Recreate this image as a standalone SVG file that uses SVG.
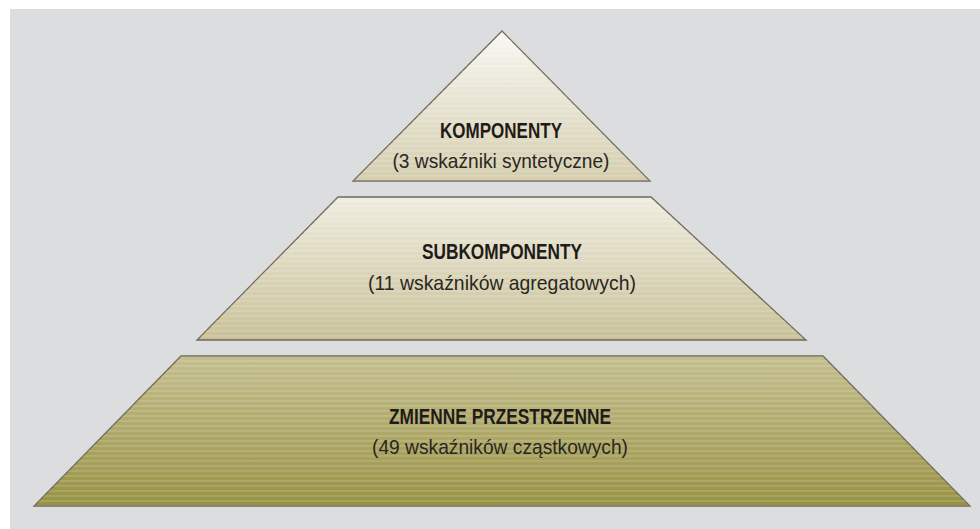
<svg xmlns="http://www.w3.org/2000/svg" width="980" height="529" viewBox="0 0 980 529">
  <defs>
    <linearGradient id="gTop" x1="0" y1="0" x2="0" y2="1">
      <stop offset="0" stop-color="#f8f7f3"/>
      <stop offset="1" stop-color="#d4ceae"/>
    </linearGradient>
    <linearGradient id="gMid" x1="0" y1="0" x2="0" y2="1">
      <stop offset="0" stop-color="#efece0"/>
      <stop offset="1" stop-color="#c8c197"/>
    </linearGradient>
    <linearGradient id="gBot" x1="0" y1="0" x2="0" y2="1">
      <stop offset="0" stop-color="#c5bf90"/>
      <stop offset="1" stop-color="#989243"/>
    </linearGradient>
    <pattern id="stripes" x="0" y="0" width="10" height="5" patternUnits="userSpaceOnUse">
      <rect x="0" y="0" width="10" height="2" fill="#ffffff" fill-opacity="0.13"/>
    </pattern>
  </defs>
  <style>
    .tier { stroke: #6f6a59; stroke-width: 1.3; stroke-linejoin: miter; }
    .stripe { fill: url(#stripes); stroke: none; }
    .title { font-family: "Liberation Sans", Arial, sans-serif; font-weight: bold; font-size: 22px; fill: #1f1b18; text-anchor: middle; }
    .sub { font-family: "Liberation Sans", Arial, sans-serif; font-size: 21px; fill: #2a2622; text-anchor: middle; }
  </style>
  <rect x="0" y="0" width="980" height="529" fill="#ffffff"/>
  <rect x="10" y="9" width="970" height="520" fill="#dcdddf"/>

  <g id="tier-top">
    <polygon class="tier" fill="url(#gTop)" points="502,31 650,181 353,181"/>
    <polygon class="stripe" points="502,31 650,181 353,181"/>
    <text class="title" x="501" y="138" textLength="122" lengthAdjust="spacingAndGlyphs">KOMPONENTY</text>
    <text class="sub" x="501" y="168" textLength="217" lengthAdjust="spacingAndGlyphs">(3 wskaźniki syntetyczne)</text>
  </g>

  <g id="tier-middle">
    <polygon class="tier" fill="url(#gMid)" points="338,197 651,197 806,340 197,340"/>
    <polygon class="stripe" points="338,197 651,197 806,340 197,340"/>
    <text class="title" x="502" y="259" textLength="160" lengthAdjust="spacingAndGlyphs">SUBKOMPONENTY</text>
    <text class="sub" x="502" y="290" textLength="268" lengthAdjust="spacingAndGlyphs">(11 wskaźników agregatowych)</text>
  </g>

  <g id="tier-bottom">
    <polygon class="tier" fill="url(#gBot)" points="181,356 823,356 970,506 34,506"/>
    <polygon class="stripe" points="181,356 823,356 970,506 34,506"/>
    <text class="title" x="500" y="424" textLength="222" lengthAdjust="spacingAndGlyphs">ZMIENNE PRZESTRZENNE</text>
    <text class="sub" x="500" y="454" textLength="256" lengthAdjust="spacingAndGlyphs">(49 wskaźników cząstkowych)</text>
  </g>

  <g id="connectors"></g>
</svg>
